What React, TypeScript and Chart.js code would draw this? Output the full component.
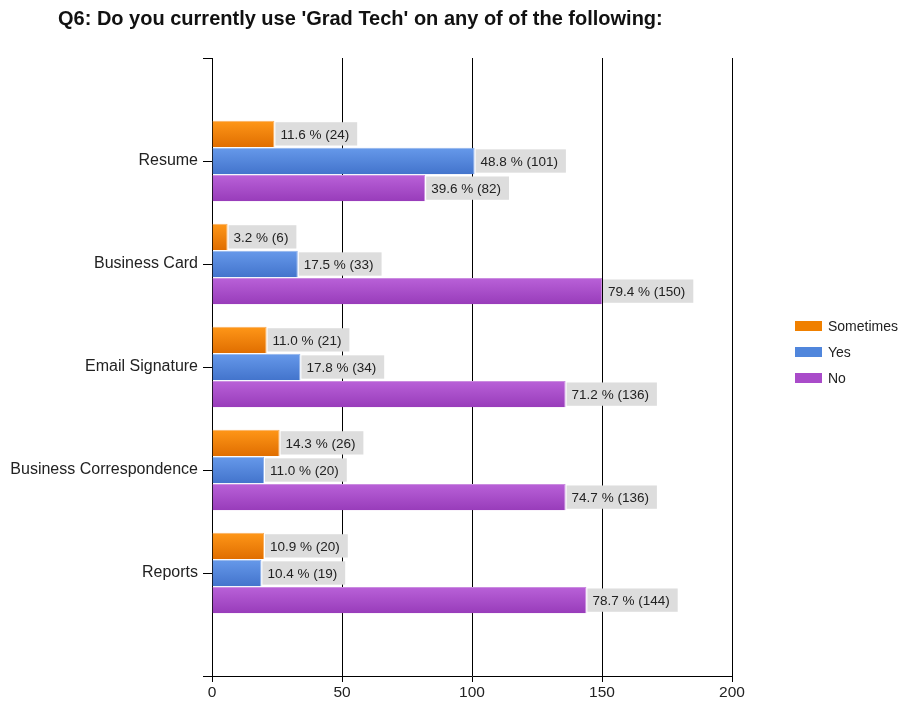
import React, { useEffect, useRef } from "react";
import { Chart, registerables } from "chart.js";

Chart.register(...registerables);

const TITLE = "Q6: Do you currently use 'Grad Tech' on any of of the following:";
const categories = ["Resume", "Business Card", "Email Signature", "Business Correspondence", "Reports"];
const seriesNames = ["Sometimes", "Yes", "No"];
const sometimesCounts = [24, 6, 21, 26, 20];
const yesCounts = [101, 33, 34, 20, 19];
const noCounts = [82, 150, 136, 136, 144];
const sometimesPct = [11.6, 3.2, 11.0, 14.3, 10.9];
const yesPct = [48.8, 17.5, 17.8, 11.0, 10.4];
const noPct = [39.6, 79.4, 71.2, 74.7, 78.7];
const xTicks = [0, 50, 100, 150, 200];
const colors = ["#F08000", "#5086DC", "#A94BC9"];
const topColors = ["#FF9718", "#6699EA", "#B961D8"];
const bottomColors = ["#E06E00", "#4374CC", "#983CBA"];
const borderColors = ["#F9B060", "#8FB2EC", "#CB8CE0"];

const FONT = "'Liberation Sans', Arial, sans-serif";
const CAT_PCT = 0.79;
const BAR_PCT = 0.97;

const pad = (arr: number[]) => [null, ...arr, null];

export default function App() {
  const ref = useRef<HTMLCanvasElement | null>(null);

  useEffect(() => {
    if (!ref.current) return;
    const counts = [sometimesCounts, yesCounts, noCounts];
    const pcts = [sometimesPct, yesPct, noPct];

    const gradientFor = (di: number) => (c: any) => {
      const chart = c.chart;
      const ys = chart.scales && chart.scales.y;
      if (!ys || c.dataIndex == null || !chart.chartArea) return colors[di];
      const spacing = ys.getPixelForValue(1) - ys.getPixelForValue(0);
      const center = ys.getPixelForValue(c.dataIndex);
      const slot = (spacing * CAT_PCT) / 3;
      const top = center - (spacing * CAT_PCT) / 2 + slot * di + (slot * (1 - BAR_PCT)) / 2;
      const h = slot * BAR_PCT;
      if (!isFinite(top) || !isFinite(h)) return colors[di];
      const g = chart.ctx.createLinearGradient(0, top, 0, top + h);
      g.addColorStop(0, topColors[di]);
      g.addColorStop(1, bottomColors[di]);
      return g;
    };

    const labelPlugin = {
      id: "valueLabels",
      afterDatasetsDraw(chart: any) {
        const ctx = chart.ctx;
        ctx.save();
        ctx.font = `13.5px ${FONT}`;
        ctx.textBaseline = "middle";
        chart.data.datasets.forEach((ds: any, di: number) => {
          const meta = chart.getDatasetMeta(di);
          meta.data.forEach((bar: any, i: number) => {
            const v = ds.data[i];
            if (v == null) return;
            const ci = i - 1;
            const txt = `${pcts[di][ci].toFixed(1)} % (${counts[di][ci]})`;
            const w = ctx.measureText(txt).width;
            const h = bar.height - 3;
            ctx.fillStyle = "#DDDDDD";
            ctx.fillRect(bar.x + 1, bar.y - h / 2, w + 13, h);
            ctx.fillStyle = "#222222";
            ctx.fillText(txt, bar.x + 6, bar.y + 1);
          });
        });
        ctx.restore();
      },
    };

    const decorPlugin = {
      id: "decor",
      afterDraw(chart: any) {
        const ctx = chart.ctx;
        const ca = chart.chartArea;
        ctx.save();
        ctx.fillStyle = "#111111";
        ctx.font = `bold 20px ${FONT}`;
        ctx.textBaseline = "middle";
        ctx.textAlign = "left";
        ctx.fillText(TITLE, 58, 19);
        ctx.font = `14px ${FONT}`;
        seriesNames.forEach((name, i) => {
          const y = 326 + i * 26;
          const x = ca.right + 63;
          ctx.fillStyle = colors[i];
          ctx.fillRect(x, y - 5, 27, 10);
          ctx.fillStyle = "#222222";
          ctx.fillText(name, x + 33, y + 1);
        });
        ctx.restore();
      },
    };

    const chart = new Chart(ref.current, {
      type: "bar",
      data: {
        labels: ["", ...categories, ""],
        datasets: [sometimesCounts, yesCounts, noCounts].map((d, i) => ({
          label: seriesNames[i],
          data: pad(d) as any,
          backgroundColor: gradientFor(i) as any,
          borderColor: borderColors[i],
          borderWidth: { top: 1, left: 0, right: 1, bottom: 0 } as any,
          categoryPercentage: CAT_PCT,
          barPercentage: BAR_PCT,
        })),
      },
      options: {
        indexAxis: "y",
        responsive: false,
        animation: false,
        layout: { padding: { top: 58, right: 166, bottom: 0, left: 0 } },
        plugins: {
          legend: { display: false },
          title: { display: false },
          tooltip: { enabled: false },
        },
        scales: {
          x: {
            min: 0,
            max: 200,
            afterBuildTicks: (scale: any) => {
              scale.ticks = xTicks.map((v) => ({ value: v }));
            },
            afterFit: (scale: any) => {
              scale.height = 30;
            },
            grid: { color: "#000000", lineWidth: 1, tickLength: 6, tickColor: "#000000" },
            border: { color: "#000000", width: 1 },
            ticks: { color: "#222222", font: { family: FONT, size: 15.5 }, padding: 1 },
          },
          y: {
            type: "category",
            offset: false,
            afterFit: (scale: any) => {
              scale.width = 212;
            },
            grid: { drawOnChartArea: false, offset: false, tickLength: 9, color: "#000000" },
            border: { color: "#000000", width: 1 },
            ticks: { color: "#222222", font: { family: FONT, size: 16 }, padding: 5, autoSkip: false },
          },
        },
      },
      plugins: [labelPlugin, decorPlugin],
    });
    return () => chart.destroy();
  }, []);

  return (
    <div style={{ position: "absolute", left: 0, top: 0, width: 898, height: 706, background: "#fff" }}>
      <canvas ref={ref} width={898} height={706} />
    </div>
  );
}
